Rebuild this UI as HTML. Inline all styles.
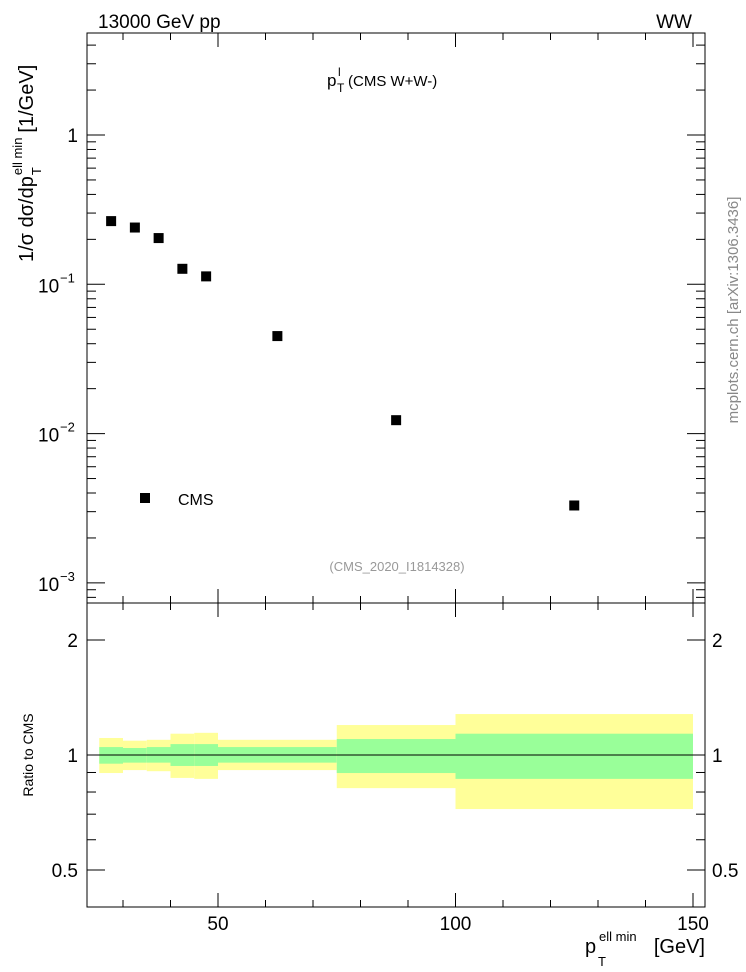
<!DOCTYPE html>
<html><head><meta charset="utf-8"><style>
body{margin:0;background:#fff}
svg{display:block;font-family:"Liberation Sans",Arial,sans-serif}
</style></head><body>
<svg id="c" width="746" height="972" xmlns="http://www.w3.org/2000/svg">
<text x="98" y="28" font-size="19">13000 GeV pp</text>
<text x="692" y="28" font-size="19" text-anchor="end">WW</text>
<g>
<text x="327" y="86" font-size="17">p</text>
<text x="338" y="76" font-size="12">l</text>
<text x="337" y="92" font-size="12">T</text>
<text x="348" y="86" font-size="15">(CMS W+W-)</text>
</g>
<text x="397" y="571" font-size="13" fill="#999" text-anchor="middle">(CMS_2020_I1814328)</text>
<text transform="translate(738,310) rotate(-90)" font-size="15" fill="#888" text-anchor="middle">mcplots.cern.ch [arXiv:1306.3436]</text>
<g transform="translate(33,0) rotate(-90)">
<text id="yt1" x="-262" y="0" font-size="20">1/σ dσ/dp</text>
<text id="yt2" x="0" y="-11" font-size="13">ell min</text>
<text id="yt3" x="0" y="8" font-size="13">T</text>
<text id="yt4" x="0" y="0" font-size="20">[1/GeV]</text>
</g>
<text transform="translate(33,755) rotate(-90)" font-size="14" text-anchor="middle">Ratio to CMS</text>
<g>
<text x="585" y="953" font-size="20">p</text>
<text x="599" y="941" font-size="13">ell min</text>
<text x="598" y="966" font-size="13">T</text>
<text x="705" y="953" font-size="20" text-anchor="end">[GeV]</text>
</g>
<g id="plot"></g>
</svg>
<script>
const binLo=[25,30,35,40,45,50,75,100];
const binHi=[30,35,40,45,50,75,100,150];
const cmsVals=[0.265,0.240,0.204,0.127,0.113,0.045,0.0123,0.0033];
const yelHi=[1.108,1.090,1.096,1.137,1.143,1.096,1.198,1.28];
const yelLo=[0.897,0.913,0.907,0.871,0.866,0.913,0.819,0.722];
const grnHi=[1.049,1.043,1.049,1.068,1.068,1.049,1.101,1.137];
const grnLo=[0.949,0.955,0.955,0.936,0.936,0.955,0.897,0.866];
const xTicks=[50,100,150];
const yDecades=[-3,-2,-1,0];
const ratioTicks=[2,1,0.5];

const NS="http://www.w3.org/2000/svg";
const g=document.getElementById('plot');
const L=87,R=705,T=33,M=603,B=907;
const xs=v=>218+(v-50)*4.75;
const ys=v=>135-Math.log10(v)*149.3;
const yr=v=>755-Math.log10(v)*382;
function el(t,a,p){const e=document.createElementNS(NS,t);for(const k in a)e.setAttribute(k,a[k]);(p||g).appendChild(e);return e;}

(function(){
  const a=document.getElementById('yt1'),b=document.getElementById('yt2'),c=document.getElementById('yt3'),d=document.getElementById('yt4');
  const x1=-262+a.getComputedTextLength()+1;
  b.setAttribute('x',x1);c.setAttribute('x',x1);
  d.setAttribute('x',x1+b.getComputedTextLength()+5);
})();

for(let i=0;i<binLo.length;i++){
  const x0=xs(binLo[i]),x1=xs(binHi[i]);
  const y=el('rect',{x:x0,y:yr(yelHi[i]),width:x1-x0,height:yr(yelLo[i])-yr(yelHi[i]),fill:'#ffff99'});
  
  
  const gr=el('rect',{x:x0,y:yr(grnHi[i]),width:x1-x0,height:yr(grnLo[i])-yr(grnHi[i]),fill:'#99ff99'});
  
  
}
const rl=el('line',{x1:L,x2:R,y1:yr(1),y2:yr(1),stroke:'#000','stroke-width':1});



const f1=el('rect',{x:L,y:T,width:R-L,height:M-T,fill:'none',stroke:'#000','stroke-width':1});


const f2=el('rect',{x:L,y:M,width:R-L,height:B-M,fill:'none',stroke:'#000','stroke-width':1});



for(let v=30;v<=150;v+=10){
  const x=xs(v),maj=xTicks.includes(v),h=maj?14:7;
  [[T,h],[M,-h],[M,h],[B,-h]].forEach(([y0,d])=>el('line',{x1:x,x2:x,y1:y0,y2:y0+d,stroke:'#000'}));
}
xTicks.forEach(v=>{
  const t=el('text',{x:xs(v),y:930,'font-size':19,'text-anchor':'middle'});
  t.textContent=v;
  
  
});
for(let d=-4;d<=0;d++){
  for(let m=1;m<10;m++){
    const v=m*Math.pow(10,d),y=ys(v);
    if(y<T||y>M)continue;
    const h=m==1?18:9;
    el('line',{x1:L,x2:L+h,y1:y,y2:y,stroke:'#000'});
    el('line',{x1:R,x2:R-h,y1:y,y2:y,stroke:'#000'});
  }
}
yDecades.forEach(d=>{
  const y=ys(Math.pow(10,d));
  if(d==0){
    const t=el('text',{x:78,y:y+7,'font-size':19,'text-anchor':'end'});
    t.textContent='1';
    
    
  }else{
    const t=el('text',{x:38,y:y+8,'font-size':19});
    t.textContent='10';
    
    
    const s=el('text',{x:60,y:y-2,'font-size':13});
    s.textContent='−'+(-d);
    
    
  }
});
[0.4,0.5,0.6,0.7,0.8,0.9,1,2].forEach(v=>{
  const y=yr(v),h=ratioTicks.includes(v)?18:9;
  el('line',{x1:L,x2:L+h,y1:y,y2:y,stroke:'#000'});
  el('line',{x1:R,x2:R-h,y1:y,y2:y,stroke:'#000'});
});
ratioTicks.forEach(v=>{
  [[78,'end'],[712,'start']].forEach(([x,a])=>{
    const t=el('text',{x:x,y:yr(v)+7,'font-size':19,'text-anchor':a});
    t.textContent=v;
    
    
  });
});
cmsVals.forEach((v,i)=>{
  const x=xs((binLo[i]+binHi[i])/2),y=ys(v);
  const p=el('rect',{x:x-5,y:y-5,width:10,height:10,fill:'#000'});
  
  
});
const lm=el('rect',{x:140,y:493,width:10,height:10,fill:'#000'});


const lt=el('text',{x:178,y:505,'font-size':16});
lt.textContent='CMS';


</script>
</body></html>
